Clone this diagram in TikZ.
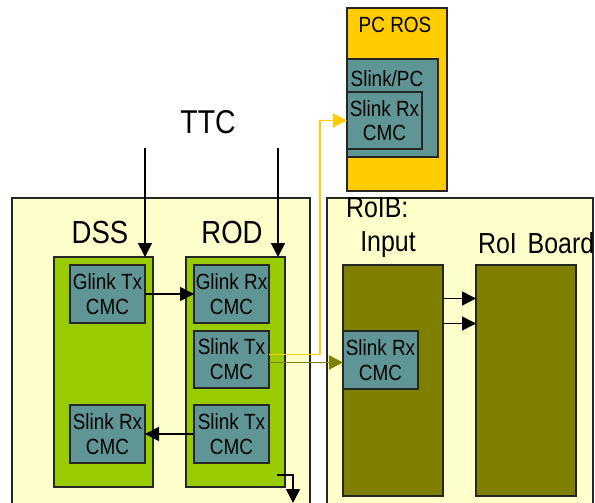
\documentclass[tikz,border=0pt]{standalone}
\usepackage{fontspec}
\setmainfont{Liberation Sans}[FakeStretch=0.86]
\usepackage{tikz}
\usetikzlibrary{arrows.meta,calc}

\definecolor{panelbg}{HTML}{FFFFCC}
\definecolor{boardgreen}{HTML}{99CC00}
\definecolor{cmcteal}{HTML}{5F9695}
\definecolor{roibolive}{HTML}{808000}
\definecolor{rosyellow}{HTML}{FFCC00}

\begin{document}
\begin{tikzpicture}[
        x=1pt, y=-1pt,
        every node/.style={inner sep=0pt, outer sep=0pt},
        panel/.style={rectangle, draw=black!85, line width=1.5pt, fill=panelbg, anchor=north west},
        board/.style={rectangle, draw=black!85, line width=1.5pt, fill=boardgreen, anchor=north west, minimum width=99pt, minimum height=230pt},
        roibbox/.style={rectangle, draw=black!85, line width=1.5pt, fill=roibolive, anchor=north west, minimum width=100pt, minimum height=231pt},
        cmc/.style={rectangle, draw=black!85, line width=1.5pt, fill=cmcteal, anchor=north west, minimum width=75pt, minimum height=58pt, align=center, font=\fontsize{22}{25}\selectfont},
        biglabel/.style={font=\fontsize{32}{36}\selectfont},
        midlabel/.style={font=\fontsize{29}{32}\selectfont},
        arrow/.style={-{Triangle[length=14pt,width=14pt]}, line width=1.6pt, draw=black}
        ]

        \clip (0,0) rectangle (595,503);
        \useasboundingbox (0,0) rectangle (595,503);

        % Outer panels
        \node[panel, minimum width=298pt, minimum height=360pt] (left) at (12,198) {};
        \node[panel, minimum width=266pt, minimum height=360pt] (right) at (327,198) {};

        % PC ROS
        \node[rectangle, draw=black!85, line width=1.5pt, fill=rosyellow, anchor=north west, minimum width=100pt, minimum height=183pt] (pcros) at (347,8) {};
        \node[font=\fontsize{22}{24}\selectfont] (pcroslbl) at (395,25) {PC ROS};
        \node[cmc, minimum width=91pt, minimum height=98pt] (slinkpc) at (347,59) {};
        \node[font=\fontsize{22}{24}\selectfont] (slinkpclbl) at (387,79) {Slink/PC};
        \node[cmc, minimum height=57pt, font=\fontsize{22}{24}\selectfont] (pcrx) at (347,92) {Slink Rx\\CMC};

        % DSS and ROD
        \node[font=\fontsize{33}{36}\selectfont] (ttc) at (208,122) {TTC};
        \node[biglabel] (dsslbl) at (100,232) {DSS};
        \node[biglabel] (rodlbl) at (232,232) {ROD};
        \node[board] (dss) at (54,257) {};
        \node[board] (rod) at (186,257) {};
        \node[cmc] (glinktx) at (70,265) {Glink Tx\\CMC};
        \node[cmc] (glinkrx) at (194,265) {Glink Rx\\CMC};
        \node[cmc, minimum height=57pt] (slinktxa) at (194,331) {Slink Tx\\CMC};
        \node[cmc] (slinkrx) at (70,405) {Slink Rx\\CMC};
        \node[cmc] (slinktxb) at (194,405) {Slink Tx\\CMC};

        % RoIB
        \node[midlabel, anchor=west] (roiblbl) at (346,208) {RoIB:};
        \node[midlabel] (inputlbl) at (388,245) {Input};
        \node[midlabel, anchor=west] (boardlbl) at (478,243) {RoI\hspace{4pt} Board};
        \node[roibbox] (input) at (343,265) {};
        \node[roibbox] (roiboard) at (476,265) {};
        \node[cmc] (inrx) at (343,331) {Slink Rx\\CMC};

        % Free ends
        \coordinate (ttcdss) at (145,148);
        \coordinate (ttcrod) at (278,148);
        \coordinate (rodout) at (277,475);

        % Connections
        \draw[arrow] (ttcdss) -- (ttcdss |- dss.north);
        \draw[arrow] (ttcrod) -- (ttcrod |- rod.north);
        \draw[arrow] (glinktx.east) -- (glinkrx.west);
        \draw[arrow] (slinktxb.west) -- (slinkrx.east);
        \draw[arrow] ([yshift=82pt]input.east) -- ([yshift=82pt]roiboard.west);
        \draw[arrow] ([yshift=57pt]input.east) -- ([yshift=57pt]roiboard.west);
        \draw[arrow] (rodout) -- ++(16,0) -- ++(0,28);

        % Slink out of the ROD
        \draw[arrow, draw=rosyellow] ([yshift=5pt]slinktxa.east) -- ++(51,0) |- (pcrx.west);
        \draw[arrow, draw=roibolive] ([yshift=-3pt]slinktxa.east) -- (inrx.west |- {$(slinktxa.east)+(0,3)$});

\end{tikzpicture}
\end{document}
